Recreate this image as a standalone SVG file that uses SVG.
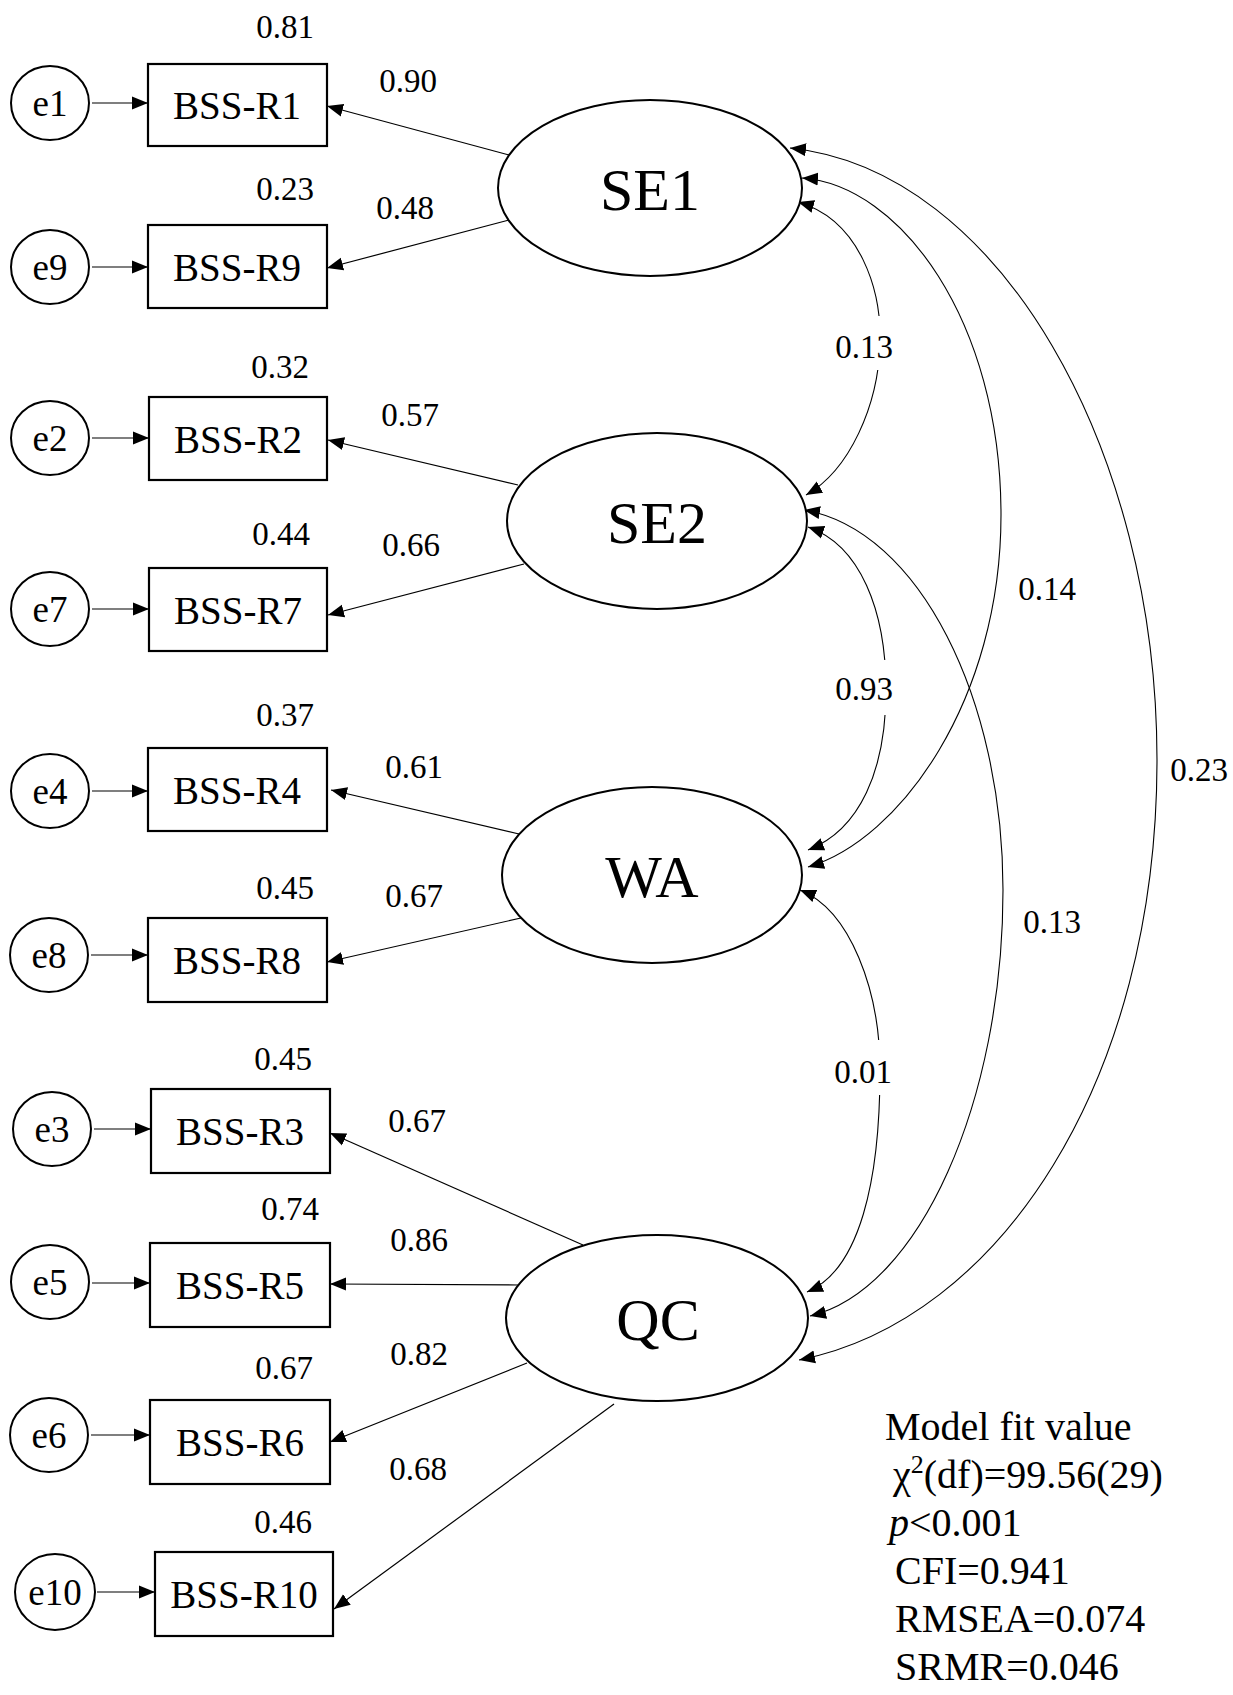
<svg xmlns="http://www.w3.org/2000/svg" width="1233" height="1695" viewBox="0 0 1233 1695">
<style>
text{font-family:"Liberation Serif","Times New Roman",serif;fill:#000}
.ind{font-size:39px;text-anchor:middle}
.err{font-size:37px;text-anchor:middle}
.lat{font-size:60px;text-anchor:middle}
.num{font-size:33px;text-anchor:middle}
.fit{font-size:40px}
.box{fill:#fff;stroke:#000;stroke-width:2.2}
.ov{fill:#fff;stroke:#000;stroke-width:2}
.ln{fill:none;stroke:#000;stroke-width:1.2;marker-end:url(#arr)}
.cv{fill:none;stroke:#000;stroke-width:1.1;marker-start:url(#arr);marker-end:url(#arr)}
.gap{fill:#fff;stroke:none}
</style>
<defs>
<marker id="arr" markerUnits="userSpaceOnUse" markerWidth="17" markerHeight="14" refX="16" refY="7" orient="auto-start-reverse">
<path d="M0,0.5 L16,7 L0,13.5 z" fill="#000"/>
</marker>
</defs>
<rect width="1233" height="1695" fill="#fff"/>

<g id="connectors">
<line class="ln" x1="92" y1="103" x2="148" y2="103"/>
<line class="ln" x1="92" y1="267" x2="148" y2="267"/>
<line class="ln" x1="92" y1="438" x2="149" y2="438"/>
<line class="ln" x1="92" y1="609" x2="149" y2="609"/>
<line class="ln" x1="92" y1="791" x2="148" y2="791"/>
<line class="ln" x1="91" y1="955" x2="148" y2="955"/>
<line class="ln" x1="94" y1="1129" x2="151" y2="1129"/>
<line class="ln" x1="92" y1="1283" x2="150" y2="1283"/>
<line class="ln" x1="91" y1="1435" x2="150" y2="1435"/>
<line class="ln" x1="97" y1="1592" x2="155" y2="1592"/>
<line class="ln" x1="509" y1="155" x2="327" y2="106"/>
<line class="ln" x1="509" y1="220" x2="327" y2="268"/>
<line class="ln" x1="518" y1="485" x2="328" y2="440"/>
<line class="ln" x1="524" y1="564" x2="328" y2="615"/>
<line class="ln" x1="519" y1="834" x2="331" y2="790"/>
<line class="ln" x1="521" y1="918" x2="327" y2="962"/>
<line class="ln" x1="583" y1="1245" x2="330" y2="1133"/>
<line class="ln" x1="518" y1="1285" x2="330" y2="1284"/>
<line class="ln" x1="527" y1="1363" x2="330" y2="1442"/>
<line class="ln" x1="614" y1="1404" x2="334" y2="1609"/>
<path id="c-se1-se2" class="cv" d="M798,202 C860,220 882,290 880,345 C878,405 850,470 806,495"/>
<path id="c-se1-wa" class="cv" d="M802,178 C900,185 1001,320 1001,515 C1001,700 900,840 808,867"/>
<path id="c-se1-qc" class="cv" d="M790,148 C1000,170 1157,450 1157,760 C1157,1080 1000,1320 799,1360"/>
<path id="c-se2-wa" class="cv" d="M808,527 C860,545 886,610 886,690 C886,770 860,830 808,850"/>
<path id="c-se2-qc" class="cv" d="M804,510 C920,530 1003,700 1003,890 C1003,1100 920,1290 810,1316"/>
<path id="c-wa-qc" class="cv" d="M800,890 C850,910 880,990 880,1070 C880,1180 860,1270 807,1292"/>
</g>

<g id="n-e1"><ellipse class="ov" cx="50" cy="103" rx="39" ry="37"/><text class="err" x="50" y="116">e1</text></g>
<g id="n-e9"><ellipse class="ov" cx="50" cy="267" rx="39" ry="37"/><text class="err" x="50" y="280">e9</text></g>
<g id="n-e2"><ellipse class="ov" cx="50" cy="438" rx="39" ry="37"/><text class="err" x="50" y="451">e2</text></g>
<g id="n-e7"><ellipse class="ov" cx="50" cy="609" rx="39" ry="37"/><text class="err" x="50" y="622">e7</text></g>
<g id="n-e4"><ellipse class="ov" cx="50" cy="791" rx="39" ry="37"/><text class="err" x="50" y="804">e4</text></g>
<g id="n-e8"><ellipse class="ov" cx="49" cy="955" rx="39" ry="37"/><text class="err" x="49" y="968">e8</text></g>
<g id="n-e3"><ellipse class="ov" cx="52" cy="1129" rx="39" ry="37"/><text class="err" x="52" y="1142">e3</text></g>
<g id="n-e5"><ellipse class="ov" cx="50" cy="1282" rx="39" ry="37"/><text class="err" x="50" y="1295">e5</text></g>
<g id="n-e6"><ellipse class="ov" cx="49" cy="1435" rx="39" ry="37"/><text class="err" x="49" y="1448">e6</text></g>
<g id="n-e10"><ellipse class="ov" cx="55" cy="1592" rx="40" ry="38"/><text class="err" x="55" y="1605">e10</text></g>

<g id="n-r1"><rect class="box" x="148" y="64" width="179" height="82"/><text class="ind" x="237" y="119">BSS-R1</text></g>
<g id="n-r9"><rect class="box" x="148" y="225" width="179" height="83"/><text class="ind" x="237" y="281">BSS-R9</text></g>
<g id="n-r2"><rect class="box" x="149" y="397" width="178" height="83"/><text class="ind" x="238" y="453">BSS-R2</text></g>
<g id="n-r7"><rect class="box" x="149" y="568" width="178" height="83"/><text class="ind" x="238" y="624">BSS-R7</text></g>
<g id="n-r4"><rect class="box" x="148" y="748" width="179" height="83"/><text class="ind" x="237" y="804">BSS-R4</text></g>
<g id="n-r8"><rect class="box" x="148" y="918" width="179" height="84"/><text class="ind" x="237" y="974">BSS-R8</text></g>
<g id="n-r3"><rect class="box" x="151" y="1089" width="179" height="84"/><text class="ind" x="240" y="1145">BSS-R3</text></g>
<g id="n-r5"><rect class="box" x="150" y="1243" width="180" height="84"/><text class="ind" x="240" y="1299">BSS-R5</text></g>
<g id="n-r6"><rect class="box" x="150" y="1400" width="180" height="84"/><text class="ind" x="240" y="1456">BSS-R6</text></g>
<g id="n-r10"><rect class="box" x="155" y="1552" width="178" height="84"/><text class="ind" x="244" y="1608">BSS-R10</text></g>

<g id="n-se1"><ellipse class="ov" cx="650" cy="188" rx="152" ry="88"/><text class="lat" x="650" y="210">SE1</text></g>
<g id="n-se2"><ellipse class="ov" cx="657" cy="521" rx="150" ry="88"/><text class="lat" x="657" y="543">SE2</text></g>
<g id="n-wa"><ellipse class="ov" cx="652" cy="875" rx="150" ry="88"/><text class="lat" x="652" y="897">WA</text></g>
<g id="n-qc"><ellipse class="ov" cx="657" cy="1318" rx="151" ry="83"/><text class="lat" x="658" y="1340">QC</text></g>

<g id="labels">
<text class="num" x="285" y="38">0.81</text>
<text class="num" x="285" y="200">0.23</text>
<text class="num" x="280" y="378">0.32</text>
<text class="num" x="281" y="545">0.44</text>
<text class="num" x="285" y="726">0.37</text>
<text class="num" x="285" y="899">0.45</text>
<text class="num" x="283" y="1070">0.45</text>
<text class="num" x="290" y="1220">0.74</text>
<text class="num" x="284" y="1379">0.67</text>
<text class="num" x="283" y="1533">0.46</text>

<text class="num" x="408" y="92">0.90</text>
<text class="num" x="405" y="219">0.48</text>
<text class="num" x="410" y="426">0.57</text>
<text class="num" x="411" y="556">0.66</text>
<text class="num" x="414" y="778">0.61</text>
<text class="num" x="414" y="907">0.67</text>
<text class="num" x="417" y="1132">0.67</text>
<text class="num" x="419" y="1251">0.86</text>
<text class="num" x="419" y="1365">0.82</text>
<text class="num" x="418" y="1480">0.68</text>

<rect class="gap" x="834" y="316" width="64" height="54"/>
<text class="num" x="864" y="358">0.13</text>
<rect class="gap" x="834" y="660" width="66" height="55"/>
<text class="num" x="864" y="700">0.93</text>
<rect class="gap" x="832" y="1040" width="66" height="55"/>
<text class="num" x="863" y="1083">0.01</text>
<text class="num" x="1047" y="600">0.14</text>
<text class="num" x="1199" y="781">0.23</text>
<text class="num" x="1052" y="933">0.13</text>
</g>

<g id="fit">
<text class="fit" x="885" y="1440">Model fit value</text>
<text class="fit" x="893" y="1488">χ<tspan font-size="26" dy="-15">2</tspan><tspan dy="15">(df)=99.56(29)</tspan></text>
<text class="fit" x="889" y="1536"><tspan font-style="italic">p</tspan>&lt;0.001</text>
<text class="fit" x="895" y="1584">CFI=0.941</text>
<text class="fit" x="895" y="1632">RMSEA=0.074</text>
<text class="fit" x="895" y="1680">SRMR=0.046</text>
</g>
</svg>
